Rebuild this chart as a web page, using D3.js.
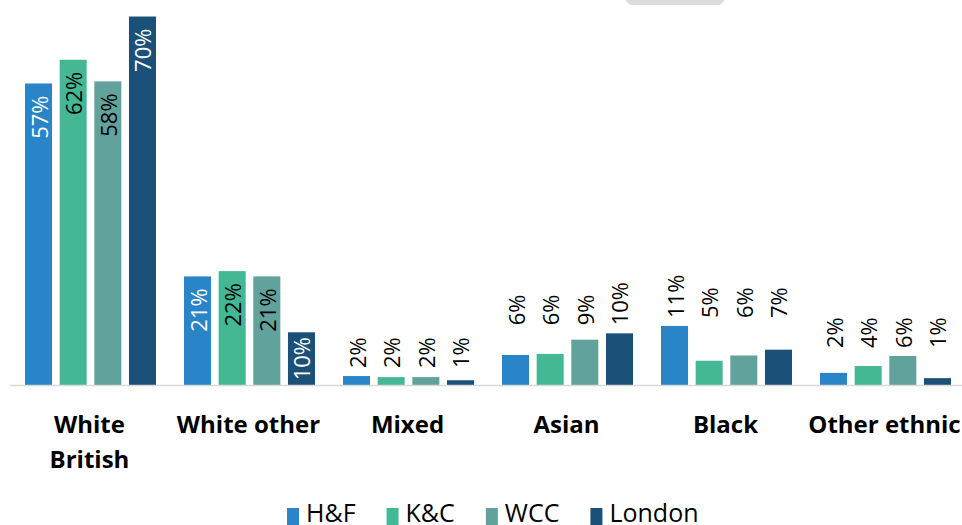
<!DOCTYPE html>
<html>
<head>
<meta charset="utf-8">
<script src="https://cdn.jsdelivr.net/npm/d3@7"></script>
<style>
  body { margin: 0; background: #fff; }
  svg { display: block; font-family: "Open Sans", sans-serif; }
</style>
</head>
<body>
<svg id="chart" width="962" height="525"></svg>
<script>
// categories and series
let categories = [["White", "British"], ["White other"], ["Mixed"], ["Asian"], ["Black"], ["Other ethnic"]];
let seriesNames = ["H&F", "K&C", "WCC", "London"];
let seriesColors = ["#2a84c8", "#44b894", "#62a29c", "#1b5078"];
let labelColors = ["#fff", "#000", "#000", "#fff"];

// percent values per series, same order as categories
let hf     = [57.2, 20.6, 1.7, 5.7, 11.2, 2.3];
let kc     = [61.7, 21.6, 1.5, 5.9, 4.6, 3.6];
let wcc    = [57.6, 20.6, 1.5, 8.6, 5.6, 5.5];
let london = [69.9, 10.0, 0.9, 9.8, 6.7, 1.3];

let values = [hf, kc, wcc, london];

let svg = d3.select("#chart");
let baseY = 385;

let x0 = d3.scaleBand()
    .domain(d3.range(categories.length))
    .range([10, 964])
    .paddingInner(0)
    .paddingOuter(0);

let x1 = d3.scaleBand()
    .domain(d3.range(seriesNames.length))
    .range([15, 146])
    .paddingInner(0.22);

let y = d3.scaleLinear()
    .domain([0, 70])
    .range([baseY, 16]);

// odd grey wedge at the top of the original
svg.append("polygon")
   .attr("points", "625,0 725,0 720,5 630,5")
   .attr("fill", "#dcdcdc");

// one group per category
let groups = svg.append("g").attr("class", "groups")
    .selectAll("g")
    .data(categories)
    .enter()
    .append("g")
      .attr("transform", (d, i) => `translate(${x0(i)},0)`);

let cells = groups.selectAll("g")
    .data((d, ci) => values.map((s, si) => ({ci: ci, si: si, v: s[ci]})))
    .enter()
    .append("g");

cells.append("rect")
    .attr("x", d => x1(d.si))
    .attr("y", d => y(d.v))
    .attr("width", x1.bandwidth())
    .attr("height", d => baseY - y(d.v))
    .attr("fill", d => seriesColors[d.si]);

// labels: inside the bar if it is tall, else above the group's tallest bar
let inside = d => d.v > 9.5 && d.ci < 2;

cells.append("text")
    .text(d => Math.round(d.v) + "%")
    .attr("font-size", 22)
    .attr("dominant-baseline", "central")
    .attr("fill", d => inside(d) ? labelColors[d.si] : "#000")
    .attr("text-anchor", d => inside(d) ? "end" : "start")
    .attr("transform", function(d) {
      let cx = x1(d.si) + x1.bandwidth() / 2;
      let ty;
      if (inside(d)) {
        let len = this.getComputedTextLength();
        let barH = baseY - y(d.v);
        ty = y(d.v) + Math.max(4, Math.min(12, (barH - len) / 2));
      } else {
        let groupMax = d3.max(values, s => s[d.ci]);
        ty = y(groupMax) - 8;
      }
      return `translate(${cx},${ty}) rotate(-90)`;
    });

// baseline
svg.append("line")
    .attr("x1", 10).attr("x2", 962)
    .attr("y1", baseY + 0.5).attr("y2", baseY + 0.5)
    .attr("stroke", "#d9d9d9")
    .attr("stroke-width", 1.5);

// category labels
let catLabels = svg.append("g").attr("class", "cats")
    .selectAll("text")
    .data(categories)
    .enter()
    .append("text")
      .attr("x", (d, i) => x0(i) + x0.bandwidth() / 2)
      .attr("y", 433)
      .attr("text-anchor", "middle")
      .attr("font-size", 24)
      .attr("font-weight", "bold")
      .attr("fill", "#000");

catLabels.selectAll("tspan")
    .data(d => d)
    .enter()
    .append("tspan")
      .attr("x", function() { return d3.select(this.parentNode).attr("x"); })
      .attr("dy", (d, i) => i === 0 ? 0 : 35)
      .text(d => d);

// legend
let legend = svg.append("g").attr("class", "legend");
let lx = 287;
seriesNames.forEach((name, i) => {
  legend.append("rect")
      .attr("x", lx).attr("y", 508)
      .attr("width", 12).attr("height", 17)
      .attr("fill", seriesColors[i]);
  let t = legend.append("text")
      .attr("x", lx + 19).attr("y", 522)
      .attr("font-size", 25)
      .attr("fill", "#000")
      .text(name);
  lx += 19 + t.node().getComputedTextLength() + 31;
});
</script>
</body>
</html>
